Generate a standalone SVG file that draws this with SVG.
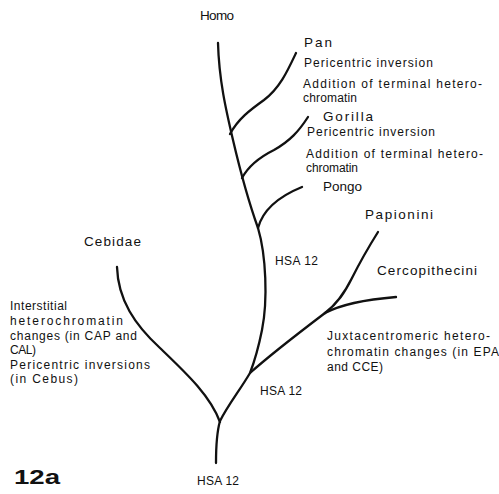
<svg xmlns="http://www.w3.org/2000/svg" width="499" height="494" viewBox="0 0 499 494">
<style>
text{font-family:"Liberation Sans",Arial,sans-serif;fill:#111}
.big{font-size:13.5px}
.sm{font-size:12px}
.fig{font-size:20px;font-weight:bold}
.br{fill:none;stroke:#111;stroke-width:2.3;stroke-linecap:round;stroke-linejoin:round}
</style>
<rect width="499" height="494" fill="#fff"/>
<g id="connectors">
<path class="br" d="M218,43 C219,80 226,110 233,140 C240,170 248,200 258,228 C266,255 268,300 262,330 C259,345 255,360 250,373 C240,390 228,405 220,421 C216,435 216,450 216,463"/>
<path class="br" d="M230,134 C238,119 250,110 264,100 C280,88 288,70 296,53"/>
<path class="br" d="M242,178 C249,165 260,157 274,150 C290,141 299,131 308,117"/>
<path class="br" d="M258,228 C262,213 275,198 302,187"/>
<path class="br" d="M117,267 C118,300 135,325 160,348 C185,372 210,395 220,422"/>
<path class="br" d="M250,373 C270,355 300,332 325,313"/>
<path class="br" d="M325,313 C338,303 345,292 352,278 C360,262 368,248 378,232"/>
<path class="br" d="M325,313 C340,305 360,300 396,297"/>
</g>
<g id="homo"><text class="big" x="200" y="20" textLength="34">Homo</text></g>
<g id="pan">
<text class="big" x="304" y="47" textLength="28">Pan</text>
<text class="sm" x="304" y="67" textLength="129">Pericentric inversion</text>
<text class="sm" x="303" y="88" textLength="179">Addition of terminal hetero-</text>
<text class="sm" x="303" y="102" textLength="54">chromatin</text>
</g>
<g id="gorilla">
<text class="big" x="323" y="121" textLength="50">Gorilla</text>
<text class="sm" x="307" y="136" textLength="128">Pericentric inversion</text>
<text class="sm" x="306" y="158" textLength="177">Addition of terminal hetero-</text>
<text class="sm" x="306" y="172" textLength="52">chromatin</text>
</g>
<g id="pongo"><text class="big" x="323" y="191" textLength="39">Pongo</text></g>
<g id="hominoid-node"><text class="sm" x="275" y="265" textLength="43">HSA 12</text></g>
<g id="papionini"><text class="big" x="365" y="219" textLength="68">Papionini</text></g>
<g id="cercopithecini">
<text class="big" x="377" y="275" textLength="100">Cercopithecini</text>
<text class="sm" x="327" y="340" textLength="163">Juxtacentromeric hetero-</text>
<text class="sm" x="327" y="356" textLength="172">chromatin changes (in EPA</text>
<text class="sm" x="327" y="371" textLength="56">and CCE)</text>
</g>
<g id="catarrhine-node"><text class="sm" x="260" y="395" textLength="42">HSA 12</text></g>
<g id="cebidae">
<text class="big" x="84" y="246" textLength="57">Cebidae</text>
<text class="sm" x="10" y="310" textLength="57">Interstitial</text>
<text class="sm" x="10" y="325" textLength="113">heterochromatin</text>
<text class="sm" x="10" y="340" textLength="127">changes (in CAP and</text>
<text class="sm" x="10" y="354" textLength="26">CAL)</text>
<text class="sm" x="10" y="369" textLength="140">Pericentric inversions</text>
<text class="sm" x="10" y="383" textLength="68">(in Cebus)</text>
</g>
<g id="root"><text class="sm" x="197" y="485" textLength="42">HSA 12</text></g>
<g id="label"><text class="fig" transform="translate(14,484) scale(1.38,1)">12a</text></g>
</svg>
